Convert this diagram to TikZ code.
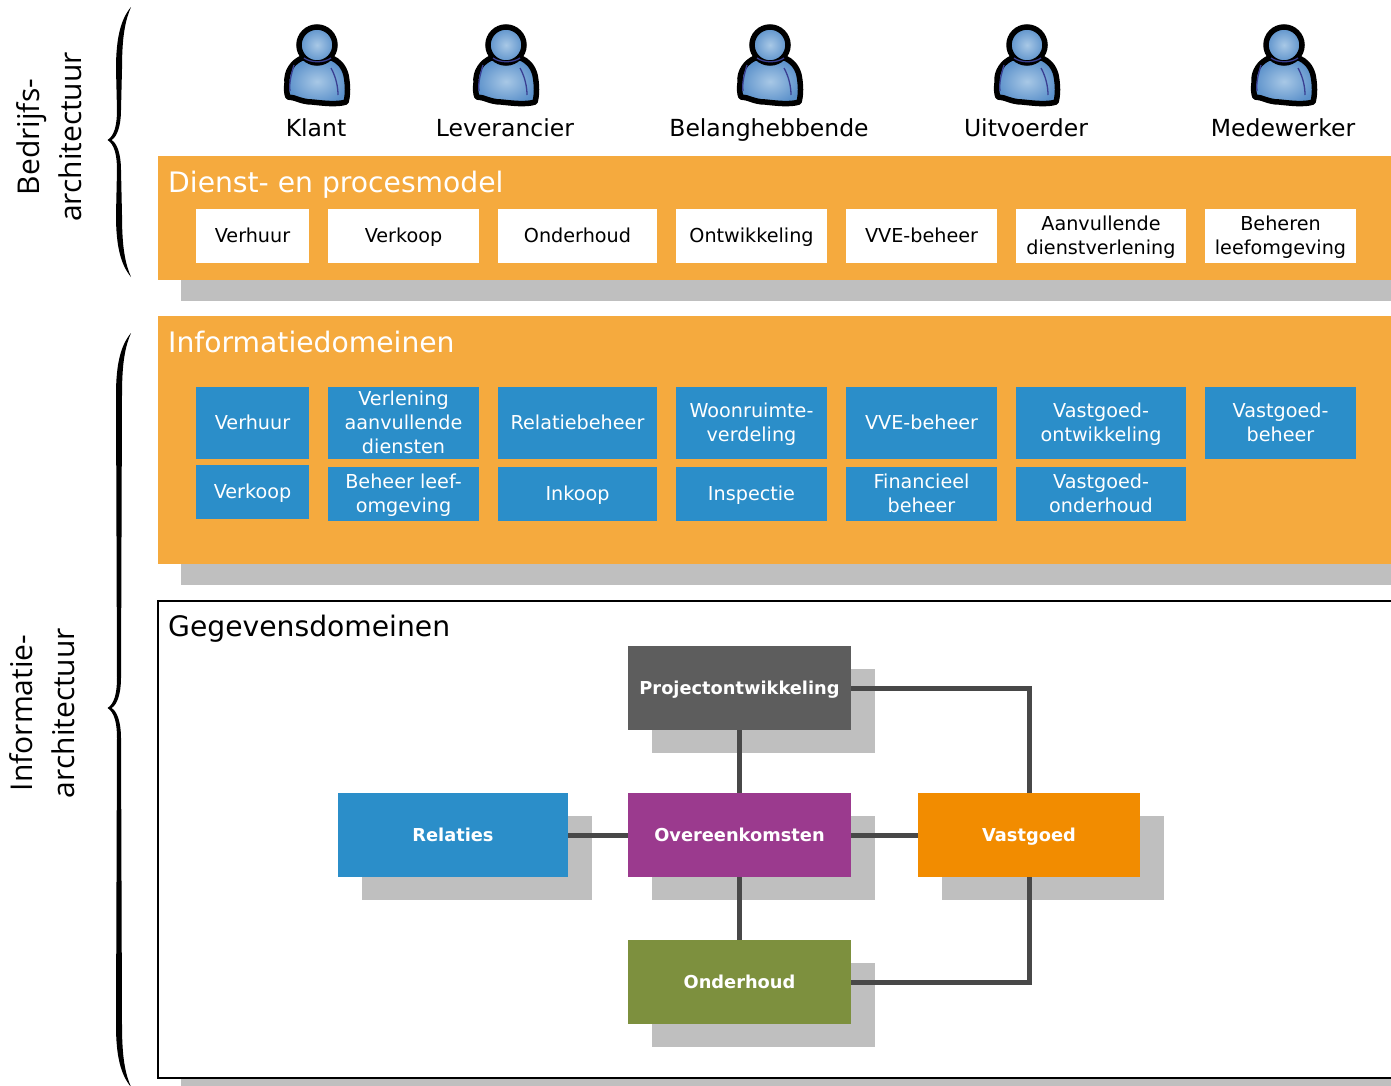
\documentclass[tikz,border=0pt]{standalone}
\usepackage{fontspec}
\setmainfont{DejaVu Sans}
\newfontfamily\sidefont{Open Sans}
\newcommand\lowstrut{\rule[-0.22\baselineskip]{0pt}{\baselineskip}}
\tikzset{
  x=1pt,y=-1pt,
  bx/.style={inner sep=0pt,outer sep=0pt,align=center,font=\fontsize{19.2}{24}\selectfont},
  whitebox/.style={bx,fill=white,text=black},
  bluebox/.style={bx,fill=domblue,text=white},
  shadowbox/.style={inner sep=0pt,outer sep=0pt,fill=shadowgray},
  band/.style={inner sep=0pt,outer sep=0pt,fill=bandorange},
  title/.style={inner sep=0pt,anchor=west,font=\fontsize{28.2}{34}\selectfont},
  actor/.style={inner sep=0pt,font=\fontsize{23.5}{28}\selectfont},
  side/.style={inner sep=0pt,rotate=90,align=center,font=\sidefont\fontsize{30}{42}\selectfont},
  bigbox/.style={inner sep=0pt,outer sep=0pt,text=white,font=\bfseries\fontsize{17.8}{22}\selectfont},
  link/.style={draw=linkgray,line width=5pt},
  person/.pic={
    \path[draw=black,line width=5.5pt,line join=round,inner color=iconlight,outer color=icondark]
      (-15,13) .. controls (-24,17) and (-31,26) .. (-30,38)
      .. controls (-31,44) and (-30,50) .. (-29,52)
      .. controls (-22,52) and (-16,57) .. (-5,57)
      .. controls (5,58) and (20,60) .. (29,57)
      .. controls (31,50) and (31,40) .. (29,30)
      .. controls (27,22) and (22,16) .. (15,13) -- cycle;
    \path[draw=black,line width=5.5pt,inner color=iconlight,outer color=icondark] (0,0) circle[radius=18];
    \draw[iconline,line width=1.3pt] (-13,13) .. controls (-6,18) and (7,18) .. (14,13);
    \draw[iconline,line width=1.3pt] (-23,20) .. controls (-26,30) and (-28,38) .. (-27,46);
    \draw[iconline,line width=1.3pt] (14,23) .. controls (19,32) and (21,42) .. (21,50);
  }
}
\definecolor{domblue}{HTML}{2B8EC9}
\definecolor{shadowgray}{HTML}{BFBFBF}
\definecolor{bandorange}{HTML}{F5AA3E}
\definecolor{linkgray}{HTML}{484848}
\definecolor{iconlight}{HTML}{A8C8E6}
\definecolor{icondark}{HTML}{5A90CA}
\definecolor{iconline}{HTML}{3A3F92}
\definecolor{darkbox}{HTML}{5D5D5D}
\definecolor{purplebox}{HTML}{9B3A8E}
\definecolor{orangebox}{HTML}{F28C00}
\definecolor{greenbox}{HTML}{7D903E}
% name, x0, y0, x1, y1, style, text
\newcommand\rbox[7]{%
  \pgfmathsetmacro\rw{#4-(#2)}\pgfmathsetmacro\rh{#5-(#3)}%
  \pgfmathsetmacro\rx{(#2+#4)/2}\pgfmathsetmacro\ry{(#3+#5)/2}%
  \node[#6,minimum width=\rw pt,minimum height=\rh pt] (#1) at (\rx,\ry) {\lowstrut #7\lowstrut};}
% spine brace: top, tip, bottom
\newcommand\sbrace[3]{%
  \fill[black] (131,#1)
    .. controls (121,#1+12) and (116,#1+30) .. (116,#1+62)
    -- (117,#2-30) .. controls (117,#2-14) and (114,#2-4) .. (107.5,#2)
    .. controls (114,#2+4) and (117,#2+14) .. (117,#2+30)
    -- (116,#3-62) .. controls (116,#3-30) and (121,#3-12) .. (131,#3)
    .. controls (125,#3-14) and (122,#3-30) .. (122,#3-62)
    -- (121,#2+30) .. controls (121,#2+14) and (117,#2+3) .. (111.5,#2)
    .. controls (117,#2-3) and (121,#2-14) .. (121,#2-30)
    -- (122,#1+62) .. controls (122,#1+30) and (125,#1+14) .. (131,#1) -- cycle;}
\begin{document}
\begin{tikzpicture}
\useasboundingbox (0,0) rectangle (1391,1085);
\fill[white] (0,0) rectangle (1391,1085);
% side
\sbrace{7}{140}{277}
\sbrace{333}{708}{1087}
\node[side] (sideA) at (49,137) {Bedrijfs-\\architectuur};
\node[side] (sideB) at (42,713) {Informatie-\\architectuur};
% actors
\foreach \px/\nm/\lbl/\lx in {317/a1/Klant/316,506/a2/Leverancier/505,770/a3/Belanghebbende/769,1027/a4/Uitvoerder/1026,1284/a5/Medewerker/1283}{
  \pic at (\px,45) {person};
  \node[actor] (\nm) at (\lx,131) {\strut\lbl};
}
% band 1
\rbox{s1}{181}{200}{1395}{301}{shadowbox}{}
\rbox{b1}{158}{156}{1395}{280}{band}{}
\node[title,text=white] (t1) at (168,186) {\strut Dienst- en procesmodel};
\rbox{w1}{196}{209}{309}{263}{whitebox}{Verhuur}
\rbox{w2}{328}{209}{479}{263}{whitebox}{Verkoop}
\rbox{w3}{498}{209}{657}{263}{whitebox}{Onderhoud}
\rbox{w4}{676}{209}{827}{263}{whitebox}{Ontwikkeling}
\rbox{w5}{846}{209}{997}{263}{whitebox}{VVE-beheer}
\rbox{w6}{1016}{209}{1186}{263}{whitebox}{Aanvullende\\dienstverlening}
\rbox{w7}{1205}{209}{1356}{263}{whitebox}{Beheren\\leefomgeving}
% band 2
\rbox{s2}{181}{400}{1395}{585}{shadowbox}{}
\rbox{b2}{158}{316}{1395}{564}{band}{}
\node[title,text=white] (t2) at (168,346) {\strut Informatiedomeinen};
\rbox{d1}{196}{387}{309}{459}{bluebox}{Verhuur}
\rbox{d2}{328}{387}{479}{459}{bluebox}{Verlening\\aanvullende\\diensten}
\rbox{d3}{498}{387}{657}{459}{bluebox}{Relatiebeheer}
\rbox{d4}{676}{387}{827}{459}{bluebox}{Woonruimte-\\verdeling}
\rbox{d5}{846}{387}{997}{459}{bluebox}{VVE-beheer}
\rbox{d6}{1016}{387}{1186}{459}{bluebox}{Vastgoed-\\ontwikkeling}
\rbox{d7}{1205}{387}{1356}{459}{bluebox}{Vastgoed-\\beheer}
\rbox{e1}{196}{465}{309}{519}{bluebox}{Verkoop}
\rbox{e2}{328}{467}{479}{521}{bluebox}{Beheer leef-\\omgeving}
\rbox{e3}{498}{467}{657}{521}{bluebox}{Inkoop}
\rbox{e4}{676}{467}{827}{521}{bluebox}{Inspectie}
\rbox{e5}{846}{467}{997}{521}{bluebox}{Financieel\\beheer}
\rbox{e6}{1016}{467}{1186}{521}{bluebox}{Vastgoed-\\onderhoud}
% data domains
\rbox{s3}{181}{700}{1395}{1090}{shadowbox}{}
\rbox{b3}{158}{601}{1395}{1078}{draw=black,line width=2pt,fill=white,inner sep=0pt}{}
\node[title,text=black] (t3) at (168,630) {\strut Gegevensdomeinen};
\rbox{sP}{652}{669}{875}{753}{shadowbox}{}
\rbox{sR}{362}{816}{592}{900}{shadowbox}{}
\rbox{sO}{652}{816}{875}{900}{shadowbox}{}
\rbox{sV}{942}{816}{1164}{900}{shadowbox}{}
\rbox{sG}{652}{963}{875}{1047}{shadowbox}{}
\rbox{proj}{628}{646}{851}{730}{bigbox,fill=darkbox}{Projectontwikkeling}
\rbox{rel}{338}{793}{568}{877}{bigbox,fill=domblue}{Relaties}
\rbox{over}{628}{793}{851}{877}{bigbox,fill=purplebox}{Overeenkomsten}
\rbox{vast}{918}{793}{1140}{877}{bigbox,fill=orangebox}{Vastgoed}
\rbox{ond}{628}{940}{851}{1024}{bigbox,fill=greenbox}{Onderhoud}
\draw[link] (proj.south) -- (over.north);
\draw[link] (over.south) -- (ond.north);
\draw[link] (rel.east) -- (over.west);
\draw[link] (over.east) -- (vast.west);
\draw[link] (proj.east) -| (vast.north);
\draw[link] (ond.east) -| (vast.south);
\end{tikzpicture}
\end{document}
